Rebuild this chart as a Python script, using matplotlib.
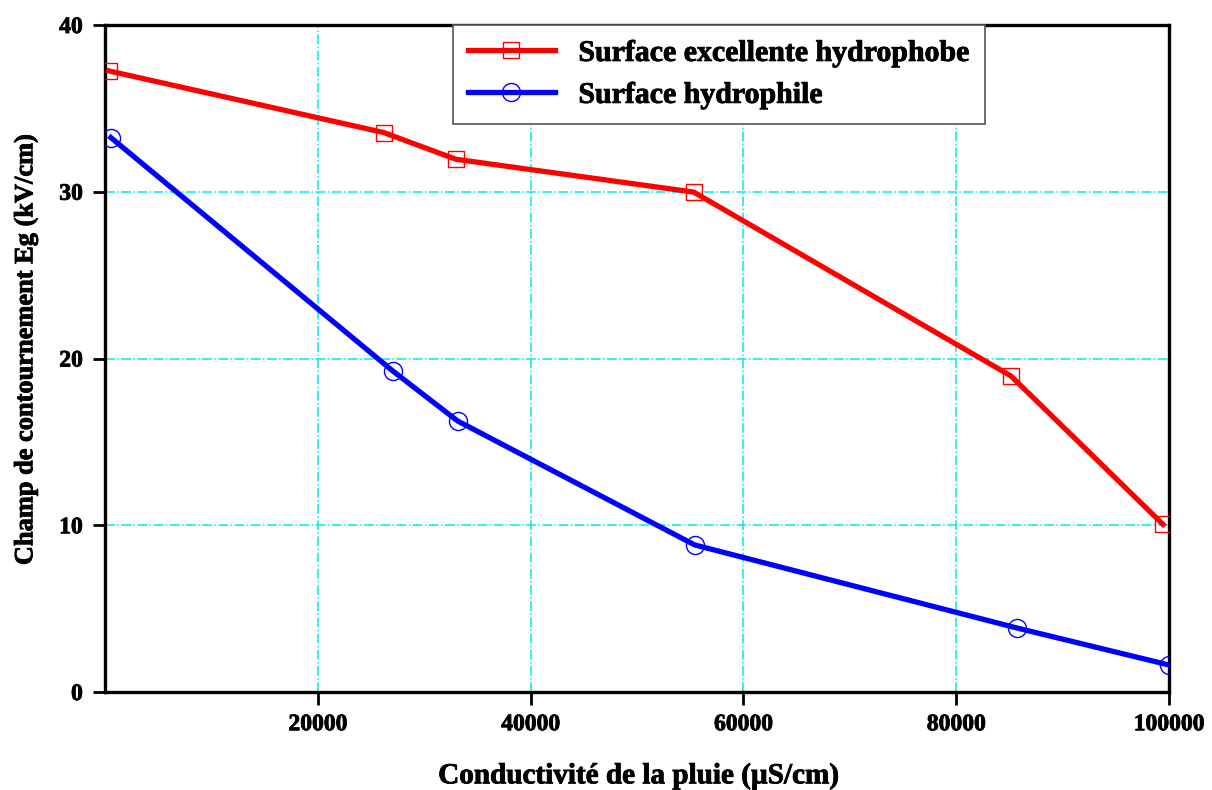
import matplotlib
matplotlib.use("Agg")
import matplotlib.pyplot as plt
import matplotlib.patheffects as pe

# Rain conductivity (µS/cm) and flashover field (kV/cm)
x_hydrophobe = [350, 26200, 32970, 55330, 85150, 99440]
eg_hydrophobe = [37.25, 33.55, 31.95, 29.98, 18.95, 10.05]

x_hydrophile = [550, 27050, 33150, 55420, 85700, 100000]
eg_hydrophile = [33.25, 19.25, 16.25, 8.82, 3.84, 1.62]

x_ticks = [20000, 40000, 60000, 80000, 100000]
y_ticks = [0, 10, 20, 30, 40]

label_hydrophobe = "Surface excellente hydrophobe"
label_hydrophile = "Surface hydrophile"
x_label = "Conductivité de la pluie (µS/cm)"
y_label = "Champ de contournement Eg (kV/cm)"

plt.rcParams["font.family"] = ["Liberation Serif", "DejaVu Serif"]
plt.rcParams["font.weight"] = "bold"

heavy = [pe.withStroke(linewidth=0.6, foreground="black")]

W, H = 1212, 790
fig = plt.figure(figsize=(W / 100, H / 100), dpi=100)
ax = fig.add_axes([105 / W, 1 - 692 / H, (1169 - 105) / W, (692 - 25) / H])

ax.plot(x_hydrophobe, eg_hydrophobe, color="#ff0000", lw=3.8, marker="s",
        markersize=11.5, markerfacecolor="none", markeredgecolor="#ff0000",
        markeredgewidth=1.0, label=label_hydrophobe, zorder=3)
ax.plot(x_hydrophile, eg_hydrophile, color="#0000ff", lw=3.8, marker="o",
        markersize=13, markerfacecolor="none", markeredgecolor="#0000ff",
        markeredgewidth=1.0, label=label_hydrophile, zorder=3)

ax.set_xlim(0, 100000)
ax.set_ylim(0, 40)
ax.set_xticks(x_ticks)
ax.set_yticks(y_ticks)
ax.set_xticklabels([str(v) for v in x_ticks])
ax.set_yticklabels([str(v) for v in y_ticks])

ax.grid(True, color="#00eaf2", linestyle="-.", linewidth=1.1)
ax.set_axisbelow(True)

for side in ["left", "right", "top", "bottom"]:
    ax.spines[side].set_linewidth(2.4)
ax.tick_params(axis="both", direction="out", length=9, width=2,
               labelsize=17, pad=7)
for lbl in ax.get_xticklabels() + ax.get_yticklabels():
    lbl.set_path_effects(heavy)

fig.text(638 / W, 1 - 776 / H, x_label, fontsize=21, fontweight="bold",
         ha="center", va="center", path_effects=heavy)
fig.text(26 / W, 1 - 350 / H, y_label, fontsize=19, fontweight="bold",
         ha="center", va="center", rotation=90, path_effects=heavy)

leg = ax.legend(loc="upper left", bbox_to_anchor=(453 / W, 1 - 25 / H),
                bbox_transform=fig.transFigure, fontsize=21.5, frameon=True,
                fancybox=False, edgecolor="#555555", framealpha=1,
                handlelength=2.9, handletextpad=0.8, borderpad=0.5,
                labelspacing=0.5, borderaxespad=0)
leg.get_frame().set_linewidth(1.2)
for t in leg.get_texts():
    t.set_fontweight("bold")
    t.set_path_effects(heavy)

fig.savefig("out.png", dpi=100)
